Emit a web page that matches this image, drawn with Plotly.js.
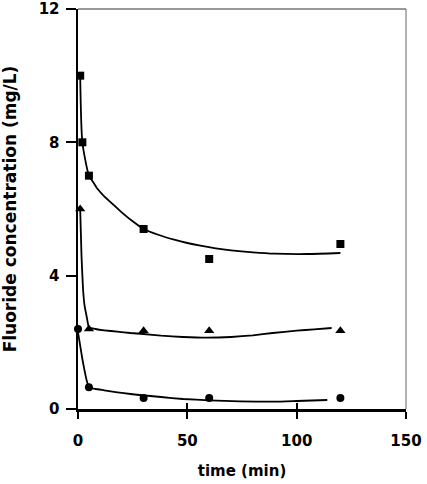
<!DOCTYPE html>
<html>
<head>
<meta charset="utf-8">
<script src="https://cdn.plot.ly/plotly-3.0.1.min.js"></script>
<style>html,body{margin:0;padding:0;background:#fff;}#chart{width:427px;height:484px;}</style>
</head>
<body>
<div id="chart"></div>
<script>
// Measured data points
const sqTime = [1, 2, 5, 30, 60, 120];
const sqConc = [10, 8.0, 7.0, 5.4, 4.5, 4.95];
const triTime = [1, 5, 30, 60, 120];
const triConc = [6.0, 2.4, 2.35, 2.35, 2.35];
const cirTime = [0, 5, 30, 60, 120];
const cirConc = [2.4, 0.65, 0.33, 0.33, 0.33];

// Fitted curves
const sqFitTime = [1, 2, 5, 7, 9, 12, 15, 20, 25, 30, 37, 44, 50, 56, 63, 70, 80, 90, 105, 120];
const sqFitConc = [10, 8.0, 7.0, 6.8, 6.6, 6.38, 6.2, 5.9, 5.63, 5.4, 5.22, 5.08, 4.98, 4.9, 4.82, 4.76, 4.7, 4.66, 4.65, 4.68];
const triFitTime = [1, 1.6, 2.3, 3, 4, 5, 8, 12, 18, 24, 30, 38, 48, 59, 70, 80, 89, 100, 108, 116];
const triFitConc = [6.0, 4.6, 3.6, 3.1, 2.76, 2.45, 2.4, 2.36, 2.32, 2.28, 2.25, 2.2, 2.16, 2.14, 2.16, 2.21, 2.28, 2.35, 2.39, 2.43];
const cirFitTime = [0, 1, 2, 3, 4, 5, 8, 12, 18, 24, 28, 38, 48, 60, 74, 90, 100, 114];
const cirFitConc = [2.3, 1.9, 1.5, 1.15, 0.85, 0.65, 0.6, 0.56, 0.5, 0.45, 0.42, 0.36, 0.3, 0.26, 0.23, 0.22, 0.24, 0.27];

const xTicks = [0, 50, 100, 150];
const yTicks = [0, 4, 8, 12];

const lineStyle = {color: '#000', width: 1.8};
const traces = [
  {x: sqFitTime, y: sqFitConc, mode: 'lines', line: Object.assign({shape: 'spline', smoothing: 0.6}, lineStyle), hoverinfo: 'skip', cliponaxis: false},
  {x: triFitTime, y: triFitConc, mode: 'lines', line: Object.assign({shape: 'spline', smoothing: 0.4}, lineStyle), hoverinfo: 'skip', cliponaxis: false},
  {x: cirFitTime, y: cirFitConc, mode: 'lines', line: Object.assign({shape: 'spline', smoothing: 0.4}, lineStyle), hoverinfo: 'skip', cliponaxis: false},
  {x: sqTime, y: sqConc, mode: 'markers', marker: {symbol: 'square', size: 8, color: '#000'}, cliponaxis: false},
  {x: triTime, y: triConc, mode: 'markers', marker: {symbol: 'triangle-up', size: 9, color: '#000'}, cliponaxis: false},
  {x: cirTime, y: cirConc, mode: 'markers', marker: {symbol: 'circle', size: 8, color: '#000'}, cliponaxis: false}
];

const tickFont = {family: 'DejaVu Sans', size: 15, color: '#000', weight: 700};
const xTitleFont = {family: 'DejaVu Sans', size: 15, color: '#000', weight: 700};
const yTitleFont = {family: 'DejaVu Sans', size: 17, color: '#000', weight: 700};

const layout = {
  width: 427, height: 484,
  margin: {l: 78, r: 21, t: 9, b: 75},
  paper_bgcolor: '#fff', plot_bgcolor: '#fff',
  showlegend: false,
  xaxis: {
    range: [0, 150], tickvals: xTicks, ticktext: xTicks.map(String),
    showgrid: false, zeroline: false,
    showline: true, linecolor: '#000', linewidth: 2.5,
    ticks: 'outside', ticklen: 7, tickwidth: 2, tickcolor: '#000',
    ticklabelstandoff: 9,
    tickfont: tickFont,
    title: {text: 'time (min)', font: xTitleFont, standoff: 17},
    automargin: false
  },
  xaxis2: {
    overlaying: 'x', matches: 'x', range: [0, 150], tickvals: xTicks,
    showticklabels: false, showgrid: false, zeroline: false, showline: false,
    ticks: 'inside', ticklen: 6, tickwidth: 2, tickcolor: '#000'
  },
  yaxis: {
    range: [0, 12], tickvals: yTicks, ticktext: yTicks.map(String),
    showgrid: false, zeroline: false,
    showline: true, linecolor: '#000', linewidth: 2.5,
    ticks: 'outside', ticklen: 10, tickwidth: 2, tickcolor: '#000',
    ticklabelstandoff: 3,
    tickfont: tickFont,
    title: {text: 'Fluoride concentration (mg/L)', font: yTitleFont, standoff: 22},
    automargin: false
  },
  shapes: [
    {type: 'line', xref: 'paper', yref: 'paper', x0: 0, x1: 1, y0: 1, y1: 1, line: {color: '#333', width: 1.2}},
    {type: 'line', xref: 'paper', yref: 'paper', x0: 1, x1: 1, y0: 0, y1: 1, line: {color: '#666', width: 1}}
  ]
};

// invisible helper trace so the inside-tick axis is drawn
traces.push({x: [0], y: [0], xaxis: 'x2', mode: 'markers', marker: {opacity: 0}, hoverinfo: 'skip', showlegend: false});

Plotly.newPlot('chart', traces, layout, {displayModeBar: false, staticPlot: true});
</script>
</body>
</html>
